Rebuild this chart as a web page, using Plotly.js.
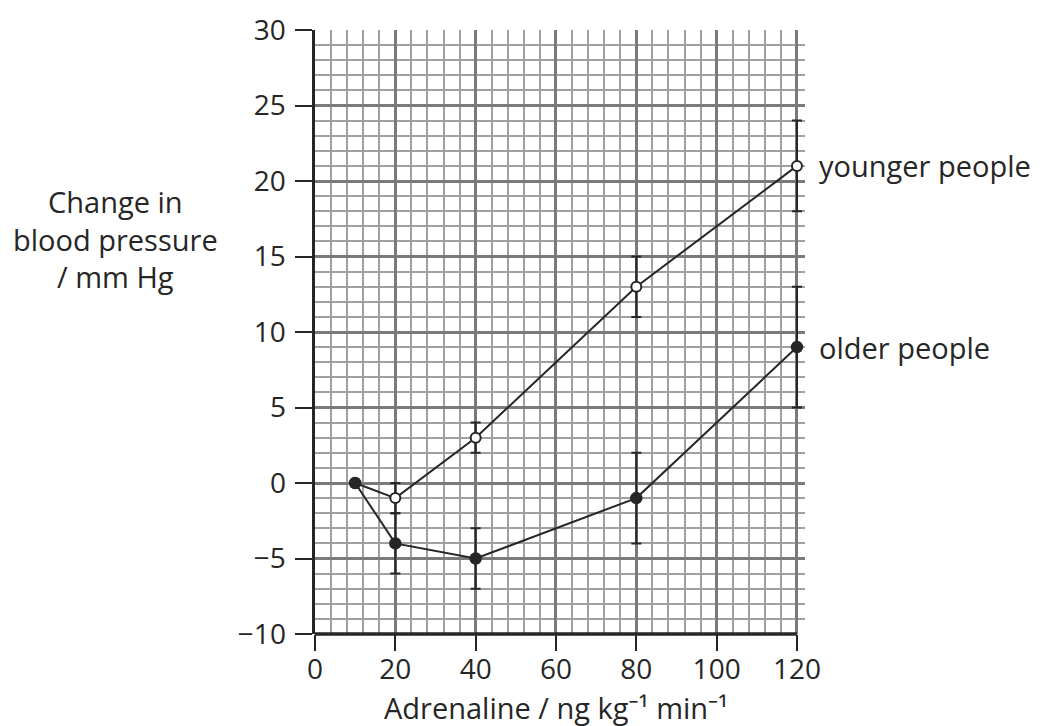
<!DOCTYPE html>
<html>
<head>
<meta charset="utf-8">
<script src="https://cdn.plot.ly/plotly-3.0.1.min.js"></script>
<style>html,body{margin:0;padding:0;background:#fff;}#chart{width:1049px;height:726px;}</style>
</head>
<body>
<div id="chart"></div>
<script>
const dose = [10, 20, 40, 80, 120];
const younger = [0, -1, 3, 13, 21];
const youngerErr = [0, 1, 1, 2, 3];
const older = [0, -4, -5, -1, 9];
const olderErr = [0, 2, 2, 3, 4];
const xTicks = [0, 20, 40, 60, 80, 100, 120];
const yTicks = [-10, -5, 0, 5, 10, 15, 20, 25, 30];
const seriesLabels = ['younger people', 'older people'];
const yTitleLines = ['Change in', 'blood pressure', '/ mm Hg'];
const xTitle = 'Adrenaline / ng kg⁻¹ min⁻¹';

const xMax = 120, xPadMax = 122;
const ink = '#262626';
const fam = '"Open Sans", "Noto Sans", sans-serif';
const tickFont = {family: fam, size: 28, color: ink, weight: 500};
const textFont = {family: fam, size: 29, color: ink, weight: 500};

const traces = [
  {
    x: dose, y: older, type: 'scatter', mode: 'lines+markers', name: seriesLabels[1],
    line: {color: ink, width: 2},
    marker: {symbol: 'circle', size: 11, color: ink, line: {color: ink, width: 1.5}},
    error_y: {type: 'data', array: olderErr, visible: true, color: ink, thickness: 2, width: 5},
    cliponaxis: false
  },
  {
    x: dose, y: younger, type: 'scatter', mode: 'lines+markers', name: seriesLabels[0],
    line: {color: ink, width: 2},
    marker: {symbol: 'circle', size: 10, color: dose.map((d, i) => i === 0 ? ink : 'white'), line: {color: ink, width: 2}},
    error_y: {type: 'data', array: youngerErr, visible: true, color: ink, thickness: 2, width: 5},
    cliponaxis: false
  }
];

const annotations = [
  {text: yTitleLines.join('<br>'), xref: 'paper', yref: 'paper', x: -0.408, y: 0.654, showarrow: false,
   xanchor: 'center', yanchor: 'middle', align: 'center', font: textFont},
  {text: xTitle, xref: 'paper', yref: 'paper', x: (xMax / 2) / xPadMax, y: -0.121, showarrow: false, xanchor: 'center', yanchor: 'middle', font: textFont},
  {text: seriesLabels[0], xref: 'x', yref: 'y', x: dose[dose.length - 1], y: younger[younger.length - 1], xshift: 20, showarrow: false, xanchor: 'left', yanchor: 'middle', font: textFont},
  {text: seriesLabels[1], xref: 'x', yref: 'y', x: dose[dose.length - 1], y: older[older.length - 1], xshift: 20, showarrow: false, xanchor: 'left', yanchor: 'middle', font: textFont}
];

const shapes = [
  // white mask hiding the grid past the last column (the range is padded so end caps are not clipped)
  {type: 'rect', xref: 'paper', yref: 'paper', x0: (xMax + 0.45) / xPadMax, x1: 1.01, y0: -0.01, y1: 1.01,
   fillcolor: '#ffffff', line: {width: 0}, layer: 'between'},
  // bottom axis line, stopping at the last column
  {type: 'line', xref: 'paper', yref: 'paper', x0: 0, x1: xMax / xPadMax, y0: 0, y1: 0,
   line: {color: ink, width: 3.5}, layer: 'above'}
];

const layout = {
  width: 1049, height: 726,
  margin: {l: 315, r: 244, t: 30, b: 92, pad: 0},
  paper_bgcolor: '#fff', plot_bgcolor: '#fff',
  showlegend: false,
  font: textFont,
  xaxis: {
    range: [0, xPadMax], tickvals: xTicks, ticktext: xTicks.map(String),
    showline: false,
    ticks: 'outside', ticklen: 16, tickwidth: 2, tickcolor: ink, ticklabelstandoff: -6,
    showgrid: true, gridcolor: '#7a7a7a', gridwidth: 3,
    minor: {dtick: 4, showgrid: true, gridcolor: '#a0a0a0', gridwidth: 2, ticks: ''},
    zeroline: false, fixedrange: true, tickfont: tickFont
  },
  yaxis: {
    range: [-10, 30], tickvals: yTicks, ticktext: yTicks.map(v => v < 0 ? '−' + Math.abs(v) : String(v)),
    showline: true, linecolor: ink, linewidth: 3.5,
    ticks: 'outside', ticklen: 17, tickwidth: 2, tickcolor: ink, ticklabelstandoff: 3,
    showgrid: true, gridcolor: '#7a7a7a', gridwidth: 3,
    minor: {dtick: 1, showgrid: true, gridcolor: '#a0a0a0', gridwidth: 2, ticks: ''},
    zeroline: false, fixedrange: true, tickfont: tickFont
  },
  shapes: shapes,
  annotations: annotations
};

Plotly.newPlot('chart', traces, layout, {displayModeBar: false, staticPlot: true});
</script>
</body>
</html>
